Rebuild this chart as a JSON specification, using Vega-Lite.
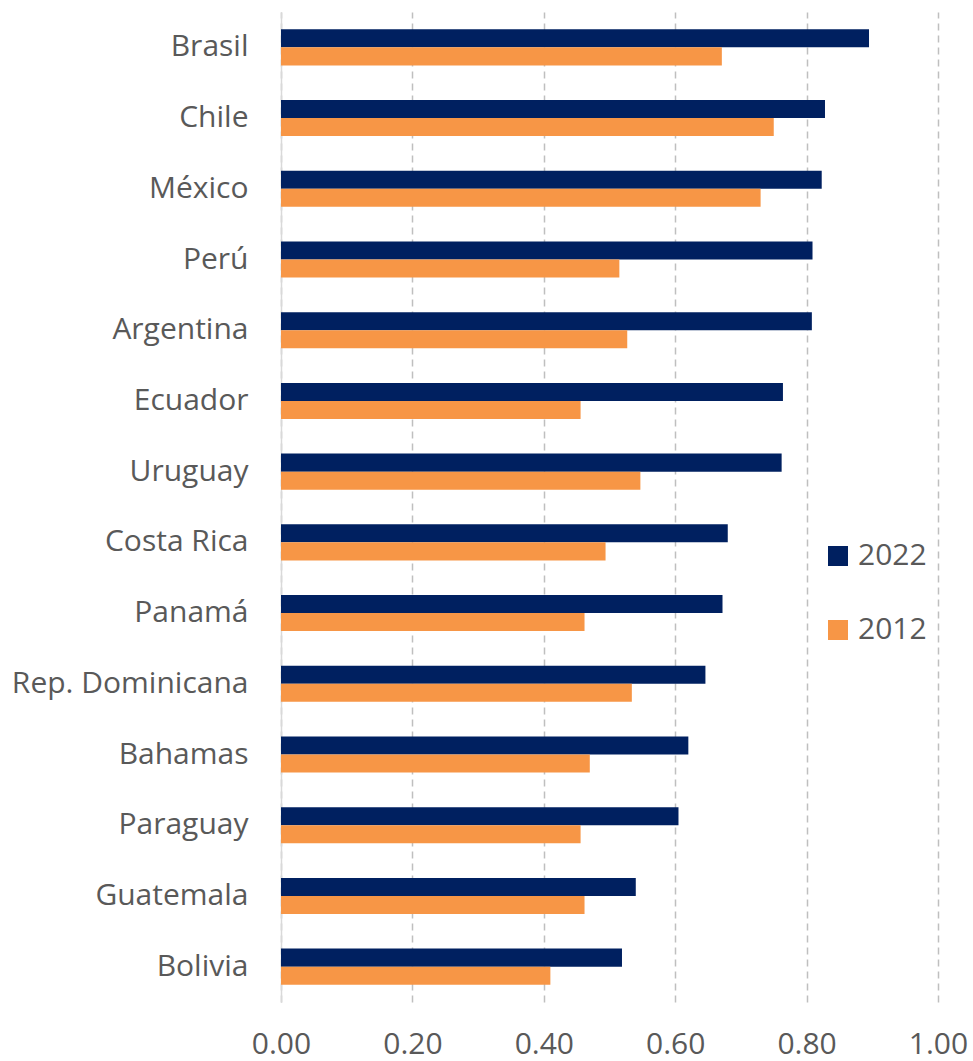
{
  "$schema": "https://vega.github.io/schema/vega-lite/v6.json",
  "autosize": {"type": "none"},
  "width": 657,
  "height": 990,
  "padding": {"left": 281, "top": 12, "right": 35, "bottom": 59},
  "background": "white",
  "data": {
    "values": [
      {"country": "Brasil", "year": "2022", "value": 0.895},
      {"country": "Brasil", "year": "2012", "value": 0.671},
      {"country": "Chile", "year": "2022", "value": 0.828},
      {"country": "Chile", "year": "2012", "value": 0.750},
      {"country": "México", "year": "2022", "value": 0.823},
      {"country": "México", "year": "2012", "value": 0.730},
      {"country": "Perú", "year": "2022", "value": 0.809},
      {"country": "Perú", "year": "2012", "value": 0.515},
      {"country": "Argentina", "year": "2022", "value": 0.808},
      {"country": "Argentina", "year": "2012", "value": 0.527},
      {"country": "Ecuador", "year": "2022", "value": 0.764},
      {"country": "Ecuador", "year": "2012", "value": 0.456},
      {"country": "Uruguay", "year": "2022", "value": 0.762},
      {"country": "Uruguay", "year": "2012", "value": 0.547},
      {"country": "Costa Rica", "year": "2022", "value": 0.680},
      {"country": "Costa Rica", "year": "2012", "value": 0.494},
      {"country": "Panamá", "year": "2022", "value": 0.672},
      {"country": "Panamá", "year": "2012", "value": 0.462},
      {"country": "Rep. Dominicana", "year": "2022", "value": 0.646},
      {"country": "Rep. Dominicana", "year": "2012", "value": 0.534},
      {"country": "Bahamas", "year": "2022", "value": 0.620},
      {"country": "Bahamas", "year": "2012", "value": 0.470},
      {"country": "Paraguay", "year": "2022", "value": 0.605},
      {"country": "Paraguay", "year": "2012", "value": 0.456},
      {"country": "Guatemala", "year": "2022", "value": 0.540},
      {"country": "Guatemala", "year": "2012", "value": 0.462},
      {"country": "Bolivia", "year": "2022", "value": 0.519},
      {"country": "Bolivia", "year": "2012", "value": 0.410}
    ]
  },
  "mark": {"type": "bar"},
  "encoding": {
    "y": {
      "field": "country",
      "type": "nominal",
      "sort": ["Brasil", "Chile", "México", "Perú", "Argentina", "Ecuador", "Uruguay", "Costa Rica", "Panamá", "Rep. Dominicana", "Bahamas", "Paraguay", "Guatemala", "Bolivia"],
      "scale": {"paddingInner": 0.49, "paddingOuter": 0.245},
      "axis": {
        "title": null,
        "ticks": false,
        "domain": true,
        "domainColor": "#D9D9D9",
        "domainWidth": 1.5,
        "grid": false,
        "labelFont": "Open Sans",
        "labelFontSize": 30,
        "labelColor": "#595959",
        "labelPadding": 33,
        "labelLimit": 400
      }
    },
    "yOffset": {"field": "year", "type": "nominal", "sort": ["2022", "2012"]},
    "x": {
      "field": "value",
      "type": "quantitative",
      "scale": {"domain": [0, 1], "nice": false},
      "axis": {
        "title": null,
        "values": [0, 0.2, 0.4, 0.6, 0.8, 1.0],
        "format": ".2f",
        "domain": false,
        "ticks": false,
        "grid": true,
        "gridColor": "#BFBFBF",
        "gridDash": [7, 5],
        "gridWidth": 1.5,
        "labelFont": "Open Sans",
        "labelFontSize": 30,
        "labelColor": "#595959",
        "labelPadding": 27,
        "labelFlush": false
      }
    },
    "color": {
      "field": "year",
      "type": "nominal",
      "sort": ["2022", "2012"],
      "scale": {"domain": ["2022", "2012"], "range": ["#002060", "#F79646"]},
      "legend": {
        "title": null,
        "orient": "none",
        "legendX": 542,
        "legendY": 529,
        "padding": 0,
        "symbolType": "square",
        "symbolSize": 400,
        "symbolStrokeWidth": 0,
        "labelFont": "Open Sans",
        "labelFontSize": 30,
        "labelColor": "#595959",
        "labelOffset": 5,
        "rowPadding": 44
      }
    }
  },
  "config": {"view": {"stroke": null}}
}
